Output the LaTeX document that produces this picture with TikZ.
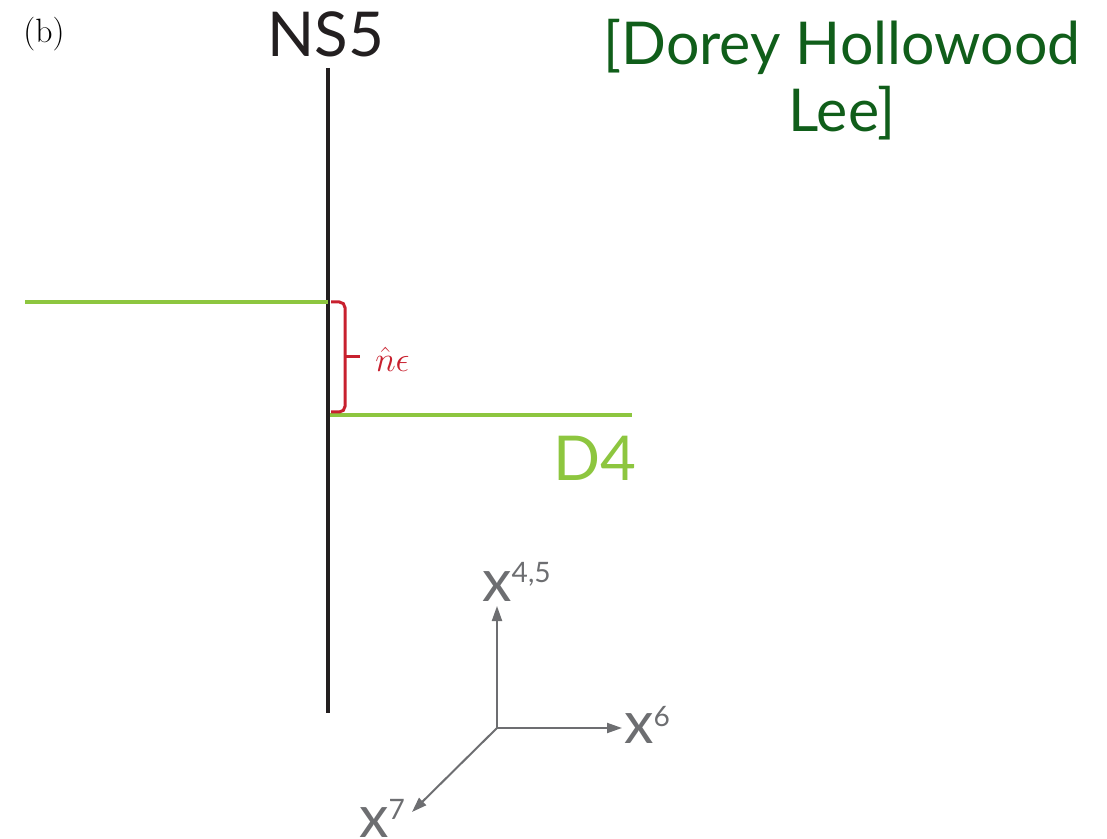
\documentclass[tikz,border=0pt]{standalone}
\usepackage{fontspec}
\newfontfamily\branefont{Lato}
\usetikzlibrary{arrows.meta}

\definecolor{nsblack}{RGB}{35,31,32}
\definecolor{dfour}{RGB}{141,198,63}
\definecolor{citegreen}{RGB}{16,94,26}
\definecolor{gapred}{RGB}{200,32,46}
\definecolor{axgray}{RGB}{109,110,113}

\newcommand{\axsup}[2]{x\raisebox{#1}{\fontsize{20}{20}\selectfont #2}}

\begin{document}
\begin{tikzpicture}[
  x=0.025cm, y=-0.025cm,
  bigtext/.style={inner sep=0pt, font=\branefont\fontsize{44}{44}\selectfont},
  citetext/.style={inner sep=0pt, align=center, text=citegreen,
    font=\branefont\fontsize{42}{47.7}\selectfont},
  axlabel/.style={inner sep=0pt, text=axgray, font=\branefont\fontsize{42}{42}\selectfont},
  nsline/.style={draw=nsblack, line width=1mm},
  dline/.style={draw=dfour, line width=0.8mm},
  gapbrace/.style={draw=gapred, line width=0.75mm, rounded corners=4},
  axis/.style={draw=axgray, line width=0.5mm, -{Triangle[length=3.75mm, width=2.5mm]}}
]
\useasboundingbox (0,0) rectangle (1107,839);

% panel label and reference
\node[inner sep=0pt, anchor=base, font=\fontsize{24}{24}\selectfont] (panel) at (44,43) {(b)};
\node[citetext, anchor=north] (cite) at (842,19) {[Dorey Hollowood\\Lee]};

% NS5 brane
\coordinate (nstop) at (328,68);
\coordinate (nsbot) at (328,713);
\draw[nsline] (nstop) -- (nsbot);
\node[bigtext, text=nsblack, anchor=base] (ns) at (326,57) {NS5};

% D4 branes
\coordinate (dleft) at (25,302);
\coordinate (dup) at (328,302);
\coordinate (dlow) at (330,415);
\coordinate (dright) at (632,415);
\draw[dline] (dleft) -- (dup);
\draw[dline] (dlow) -- (dright);
\node[bigtext, text=dfour, anchor=base east] (dfourlabel) at (637,481) {D4};

% separation
\coordinate (gtop) at (331,302);
\coordinate (gbot) at (331,412);
\coordinate (gmid) at (345,357);
\draw[gapbrace] (gtop) -- (345,302) -- (345,412) -- (gbot);
\draw[gapbrace] (gmid) -- (360,357);
\node[inner sep=0pt, anchor=base west, text=gapred, font=\fontsize{25}{25}\selectfont] (gap) at (375,372) {$\hat{n}\epsilon$};

% axes
\coordinate (o) at (497,728);
\coordinate (tipup) at (497,606);
\coordinate (tipright) at (622,728);
\coordinate (tipdown) at (412,812);
\draw[axis] (o) -- (tipup);
\draw[axis] (o) -- (tipright);
\draw[axis] (o) -- (tipdown);
\node[axlabel, anchor=base west] (xup) at (482,602) {\axsup{4.75mm}{4,5}};
\node[axlabel, anchor=base west] (xright) at (624,743) {\axsup{4mm}{6}};
\node[axlabel, anchor=base west] (xdown) at (359,837) {\axsup{4.25mm}{7}};
\end{tikzpicture}
\end{document}
